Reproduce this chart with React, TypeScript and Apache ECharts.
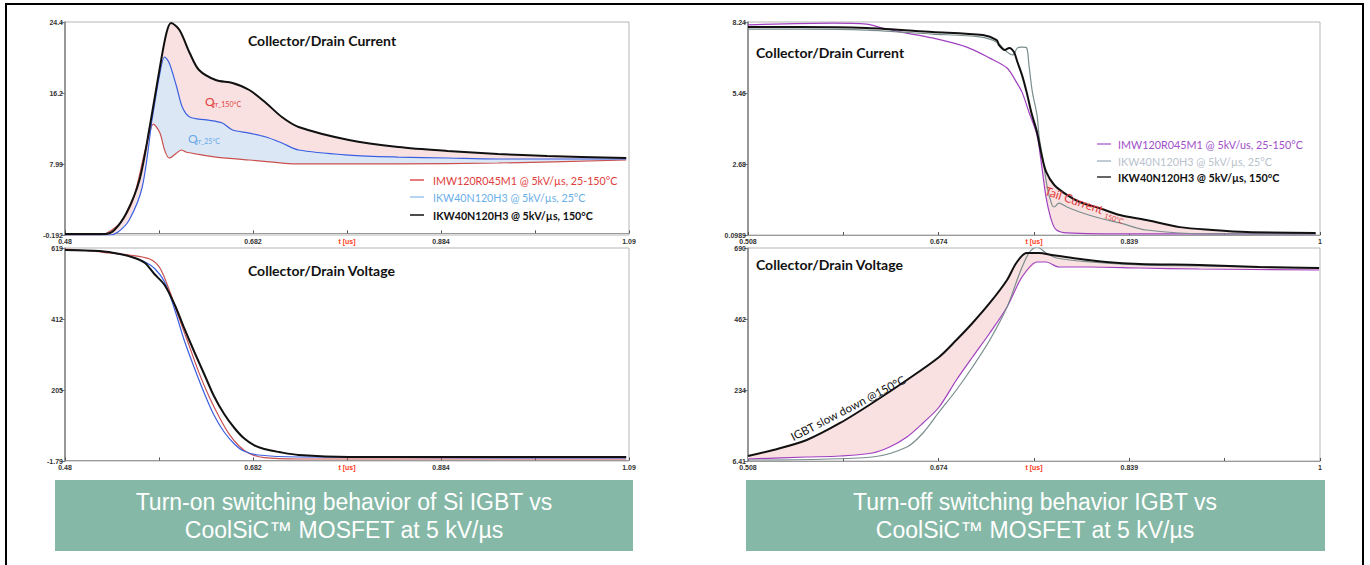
import React, { useEffect, useRef } from "react";
import * as echarts from "echarts";

type P = [number, number];

// ---------- axes ----------
const leftXRange: P = [0.48, 1.086];
const leftXTicks = [0.48, 0.581, 0.682, 0.783, 0.884, 0.985, 1.086];
const leftXLabels = ["0.48", "", "0.682", "t [us]", "0.884", "", "1.09"];
const rightXRange: P = [0.508, 1.0048];
const rightXTicks = [0.508, 0.5908, 0.6736, 0.7564, 0.8392, 0.922, 1.0048];
const rightXLabels = ["0.508", "", "0.674", "t [us]", "0.839", "", "1"];

const ltYRange: P = [-0.192, 24.4];
const ltYLabels = ["-0.192", "7.99", "16.2", "24.4"];
const lbYRange: P = [-1.79, 619];
const lbYLabels = ["-1.79", "205", "412", "619"];
const rtYRange: P = [0.0989, 8.24];
const rtYLabels = ["0.0989", "2.68", "5.46", "8.24"];
const rbYRange: P = [6.41, 690];
const rbYLabels = ["6.41", "234", "462", "690"];

// ---------- left top: turn-on current (t [us], A) ----------
const ltRed: P[] = [[0.48,-0.19],[0.517,-0.19],[0.525,0.04],[0.539,1.19],[0.553,3.85],[0.568,10.43],[0.575,12.62],[0.582,11.58],[0.587,9.62],[0.592,8.7],[0.6,9.28],[0.605,9.62],[0.61,9.39],[0.621,9.16],[0.642,8.81],[0.678,8.47],[0.731,8.01],[0.838,8.01],[0.945,8.12],[1.083,8.47]];
const ltBlue: P[] = [[0.48,-0.19],[0.528,-0.19],[0.537,0.15],[0.549,1.54],[0.563,5.35],[0.574,13.43],[0.582,18.51],[0.587,20.36],[0.592,19.67],[0.6,16.9],[0.606,14.59],[0.614,13.43],[0.632,13.09],[0.649,12.74],[0.66,11.93],[0.678,11.58],[0.696,11.12],[0.713,10.43],[0.731,9.62],[0.785,9.04],[0.838,8.81],[0.891,8.7],[0.945,8.58],[1.083,8.58]];
const ltBlack: P[] = [[0.48,-0.08],[0.523,-0.08],[0.533,0.39],[0.546,2.35],[0.56,6.16],[0.571,12.28],[0.582,19.2],[0.589,23.13],[0.594,24.28],[0.603,23.48],[0.614,20.82],[0.624,18.86],[0.642,17.7],[0.66,17.36],[0.678,16.55],[0.696,15.05],[0.713,13.43],[0.731,12.28],[0.785,10.78],[0.838,9.97],[0.891,9.51],[0.945,9.16],[0.998,8.93],[1.083,8.7]];

// ---------- left bottom: turn-on voltage (t [us], V) ----------
const lbRed: P[] = [[0.48,616.1],[0.507,610.3],[0.528,604.4],[0.549,598.6],[0.571,587.0],[0.582,560.7],[0.592,496.6],[0.603,412],[0.614,330],[0.624,255],[0.635,185],[0.646,125],[0.656,78],[0.667,42],[0.678,20],[0.694,8],[0.731,4.04],[1.083,4.04]];
const lbBlue: P[] = [[0.48,613.2],[0.517,610.3],[0.539,601.5],[0.555,589.9],[0.566,578.2],[0.576,560],[0.587,520.0],[0.598,438.3],[0.608,350.9],[0.619,269.3],[0.63,193.5],[0.64,132.3],[0.651,82.7],[0.662,47.8],[0.672,27.4],[0.688,15.7],[0.731,9.9],[1.083,6.95]];
const lbBlack: P[] = [[0.48,613.2],[0.517,610.3],[0.539,601.5],[0.555,589.9],[0.566,575.3],[0.576,543.2],[0.587,511.2],[0.598,452.9],[0.608,385.9],[0.619,315.9],[0.63,248.9],[0.64,187.7],[0.651,135.2],[0.662,94.4],[0.672,65.2],[0.683,44.8],[0.694,33.2],[0.71,24.4],[0.731,15.7],[0.785,9.9],[1.083,9.9]];

// ---------- right top: turn-off current (t [us], A) ----------
const rtPurple: P[] = [[0.508,8.13],[0.582,8.2],[0.611,8.16],[0.625,8.01],[0.64,7.86],[0.668,7.63],[0.698,7.28],[0.718,6.86],[0.733,6.48],[0.741,5.95],[0.746,5.56],[0.752,4.8],[0.759,3.92],[0.763,2.77],[0.767,1.51],[0.772,0.6],[0.776,0.29],[0.785,0.18],[0.848,0.14],[1.001,0.14]];
const rtGrey: P[] = [[0.508,7.97],[0.553,7.97],[0.611,7.93],[0.668,7.78],[0.709,7.67],[0.724,7.47],[0.733,7.09],[0.738,6.98],[0.742,7.25],[0.746,7.28],[0.75,7.25],[0.752,6.6],[0.755,5.56],[0.759,4.69],[0.761,3.81],[0.764,3.04],[0.768,1.9],[0.772,1.25],[0.774,1.17],[0.778,1.32],[0.785,1.17],[0.796,0.98],[0.813,0.75],[0.831,0.56],[0.854,0.29],[0.911,0.14],[1.001,0.14]];
const rtBlack: P[] = [[0.508,8.05],[0.553,8.05],[0.611,8.01],[0.668,7.86],[0.712,7.74],[0.724,7.55],[0.726,7.36],[0.731,7.17],[0.735,7.25],[0.739,7.09],[0.742,6.71],[0.746,6.21],[0.75,5.56],[0.754,4.8],[0.759,4.03],[0.763,3.16],[0.767,2.51],[0.774,2.01],[0.785,1.63],[0.796,1.36],[0.813,1.13],[0.831,0.86],[0.854,0.67],[0.883,0.4],[0.911,0.29],[0.941,0.21],[1.001,0.18]];

// ---------- right bottom: turn-off voltage (t [us], V) ----------
const rbPurple: P[] = [[0.508,12.8],[0.559,19.2],[0.588,22.5],[0.616,32.1],[0.631,51.3],[0.646,83.4],[0.66,128.4],[0.674,179.7],[0.689,266.4],[0.703,340.2],[0.718,417.2],[0.733,500.7],[0.746,596.9],[0.759,645.1],[0.767,645.1],[0.778,629.0],[0.805,629.0],[0.848,625.8],[0.9,622.6],[1.004,619.4]];
const rbGrey: P[] = [[0.508,9.6],[0.616,19.2],[0.646,51.3],[0.66,96.3],[0.674,163.7],[0.689,234.3],[0.703,308.1],[0.718,394.7],[0.733,500.7],[0.744,609.8],[0.752,674.0],[0.759,693.2],[0.767,674.0],[0.776,657.9],[0.805,645.1],[0.848,635.4],[0.9,632.2],[1.004,625.8]];
const rbBlack: P[] = [[0.508,22.5],[0.53,41.7],[0.559,73.8],[0.588,128.4],[0.616,192.5],[0.646,266.4],[0.674,340.2],[0.689,394.7],[0.703,449.3],[0.718,513.5],[0.733,587.3],[0.741,641.9],[0.75,674.0],[0.761,674.0],[0.772,667.6],[0.79,657.9],[0.819,645.1],[0.848,638.7],[0.9,635.4],[0.952,629.0],[1.004,625.8]];

// ---------- texts ----------
const leftLegend = ["IMW120R045M1 @ 5kV/µs, 25-150°C", "IKW40N120H3 @ 5kV/µs, 25°C", "IKW40N120H3 @ 5kV/µs, 150°C"];
const rightLegend = ["IMW120R045M1 @ 5kV/us, 25-150°C", "IKW40N120H3 @ 5kV/µs, 25°C", "IKW40N120H3 @ 5kV/µs, 150°C"];
const leftCaption = ["Turn-on switching behavior of Si IGBT vs", "CoolSiC™ MOSFET at 5 kV/µs"];
const rightCaption = ["Turn-off switching behavior IGBT vs", "CoolSiC™ MOSFET at 5 kV/µs"];

const AX_FONT = '"Liberation Sans", Arial, sans-serif';
const TXT_FONT = 'Lato, "Noto Sans", sans-serif';

const evenTicks = (r: P) => [0, 1, 2, 3].map((i) => r[0] + ((r[1] - r[0]) * i) / 3);
const labelFor = (ticks: number[], labels: string[]) => (val: number) => {
  const i = ticks.findIndex((t) => Math.abs(t - val) < 1e-6);
  if (i < 0) return "";
  const s = labels[i];
  return s === "t [us]" ? "{r|t [us]}" : s;
};
const from = (pts: P[], t0: number) => pts.filter((p) => p[0] >= t0);

function xAxis(g: number, range: P, ticks: number[], labels: string[]) {
  return {
    type: "value", gridIndex: g, min: range[0], max: range[1],
    axisLine: { show: true, lineStyle: { color: "#9a9a9a", width: 1 } },
    axisTick: { show: true, inside: true, length: 3, customValues: ticks, lineStyle: { color: "#555" } },
    axisLabel: {
      show: true, customValues: ticks, fontSize: 7, fontWeight: "bold", color: "#333", margin: 3,
      fontFamily: AX_FONT, formatter: labelFor(ticks, labels),
      rich: { r: { color: "#ff4020", fontSize: 7, fontWeight: "bold", fontFamily: AX_FONT } },
    },
    splitLine: { show: false },
  };
}
function yAxis(g: number, range: P, labels: string[]) {
  const ticks = evenTicks(range);
  return {
    type: "value", gridIndex: g, min: range[0], max: range[1],
    axisLine: { show: true, lineStyle: { color: "#808080", width: 1.5 } },
    axisTick: { show: true, inside: false, length: 4, customValues: ticks, lineStyle: { color: "#777" } },
    axisLabel: { show: true, customValues: ticks, fontSize: 7, fontWeight: "bold", color: "#333", margin: 2, fontFamily: AX_FONT, formatter: labelFor(ticks, labels) },
    splitLine: { show: false },
  };
}
function line(g: number, data: P[], color: string, width: number) {
  return { type: "line", xAxisIndex: g, yAxisIndex: g, data, showSymbol: false, symbol: "none", silent: true, z: 3, smooth: 0.3, lineStyle: { color, width } };
}
function fill(g: number, upper: P[], lower: P[], color: string) {
  return {
    type: "custom", xAxisIndex: g, yAxisIndex: g, silent: true, z: 1, clip: true, data: [upper[0]],
    renderItem: (_p: any, api: any) => {
      const pts = upper.map((p) => api.coord(p)).concat(lower.slice().reverse().map((p) => api.coord(p)));
      return { type: "polygon", shape: { points: pts }, style: { fill: color } };
    },
  };
}
function text(x: number, y: number, t: string, font: string, color: string, align = "left", rotation = 0) {
  return { type: "text", x, y, rotation, z: 10, style: { text: t, font, fill: color, align, textAlign: align, verticalAlign: "middle", textVerticalAlign: "middle" } };
}
function seg(x1: number, x2: number, y: number, color: string, w = 1.5) {
  return { type: "line", z: 10, shape: { x1, y1: y, x2, y2: y }, style: { stroke: color, lineWidth: w } };
}

export default function App() {
  const ref = useRef<HTMLDivElement>(null);
  useEffect(() => {
    if (!ref.current) return;
    const chart = echarts.init(ref.current, undefined, { renderer: "svg" });
    const grids = [
      { left: 65, top: 22, width: 564, height: 213 },
      { left: 65, top: 248, width: 564, height: 213 },
      { left: 748, top: 22, width: 572, height: 213 },
      { left: 748, top: 248, width: 572, height: 213 },
    ].map((g) => ({ ...g, show: true, borderColor: "#b5b5b5", borderWidth: 1, backgroundColor: "transparent" }));

    const pink = "#f9e1e1";
    const graphic: any[] = [
      { type: "rect", z: 0, shape: { x: 6, y: 4, width: 1357, height: 620 }, style: { fill: "none", stroke: "#000", lineWidth: 2 } },
      text(248, 40, "Collector/Drain Current", `bold 14px ${TXT_FONT}`, "#111"),
      text(248, 270, "Collector/Drain Voltage", `bold 14px ${TXT_FONT}`, "#111"),
      text(756, 52, "Collector/Drain Current", `bold 14px ${TXT_FONT}`, "#111"),
      text(756, 264, "Collector/Drain Voltage", `bold 14px ${TXT_FONT}`, "#111"),
      text(205, 101, "Q", `12px ${TXT_FONT}`, "#e04040"),
      text(213, 104, "rr_150°C", `7px ${TXT_FONT}`, "#e04040"),
      text(188, 138, "Q", `12px ${TXT_FONT}`, "#6aa8e8"),
      text(196, 141, "rr_25°C", `7px ${TXT_FONT}`, "#6aa8e8"),
      seg(410, 424, 180, "#e05050"),
      seg(410, 424, 197, "#9cc8ee"),
      seg(410, 424, 215, "#111"),
      text(433, 180, leftLegend[0], `10.7px ${TXT_FONT}`, "#e03c3c"),
      text(433, 197, leftLegend[1], `10.7px ${TXT_FONT}`, "#6aaee8"),
      text(433, 215, leftLegend[2], `bold 10.7px ${TXT_FONT}`, "#111"),
      seg(1097, 1111, 144, "#b070d0"),
      seg(1097, 1111, 161, "#aabac8"),
      seg(1097, 1111, 177, "#333"),
      text(1118, 144, rightLegend[0], `10.8px ${TXT_FONT}`, "#a050c8"),
      text(1118, 161, rightLegend[1], `10.8px ${TXT_FONT}`, "#b8c2cc"),
      text(1118, 177, rightLegend[2], `bold 10.8px ${TXT_FONT}`, "#111"),
      text(1074, 200, "Tail Current", `12px ${TXT_FONT}`, "#e03c3c", "center", -0.33),
      text(1114, 218, "150°C", `7px ${TXT_FONT}`, "#e03c3c", "center", -0.33),
      text(848, 408, "IGBT slow down @150°C", `11.5px ${TXT_FONT}`, "#111", "center", 0.478),
      { type: "rect", z: 0, shape: { x: 55, y: 480, width: 578, height: 71 }, style: { fill: "#85b8a6" } },
      { type: "rect", z: 0, shape: { x: 746, y: 480, width: 579, height: 71 }, style: { fill: "#85b8a6" } },
      text(344, 502, leftCaption[0], `23px ${AX_FONT}`, "#fff", "center"),
      text(344, 530, leftCaption[1], `23px ${AX_FONT}`, "#fff", "center"),
      text(1035, 502, rightCaption[0], `23px ${AX_FONT}`, "#fff", "center"),
      text(1035, 530, rightCaption[1], `23px ${AX_FONT}`, "#fff", "center"),
    ];

    chart.setOption({
      animation: false,
      backgroundColor: "#fff",
      grid: grids,
      xAxis: [
        xAxis(0, leftXRange, leftXTicks, leftXLabels),
        xAxis(1, leftXRange, leftXTicks, leftXLabels),
        xAxis(2, rightXRange, rightXTicks, rightXLabels),
        xAxis(3, rightXRange, rightXTicks, rightXLabels),
      ],
      yAxis: [yAxis(0, ltYRange, ltYLabels), yAxis(1, lbYRange, lbYLabels), yAxis(2, rtYRange, rtYLabels), yAxis(3, rbYRange, rbYLabels)],
      series: [
        fill(0, ltBlack, ltBlue, pink),
        fill(0, from(ltBlue, 0.574), from(ltRed, 0.575), "#dbe7f5"),
        line(0, ltRed, "#c9504f", 1.2),
        line(0, ltBlue, "#3b5fe0", 1.2),
        line(0, ltBlack, "#111", 2),
        line(1, lbRed, "#c9504f", 1.2),
        line(1, lbBlue, "#3b5fe0", 1.2),
        line(1, lbBlack, "#111", 2),
        fill(2, from(rtBlack, 0.754), from(rtPurple, 0.752), pink),
        line(2, rtPurple, "#a040c0", 1.2),
        line(2, rtGrey, "#7a8d8d", 1.2),
        line(2, rtBlack, "#111", 2),
        fill(3, rbBlack, rbPurple, pink),
        line(3, rbPurple, "#a040c0", 1.2),
        line(3, rbGrey, "#7a8d8d", 1.2),
        line(3, rbBlack, "#111", 2),
      ],
      graphic,
    });
    return () => chart.dispose();
  }, []);
  return <div ref={ref} style={{ position: "fixed", left: 0, top: 0, width: 1370, height: 565, background: "#fff" }} />;
}
